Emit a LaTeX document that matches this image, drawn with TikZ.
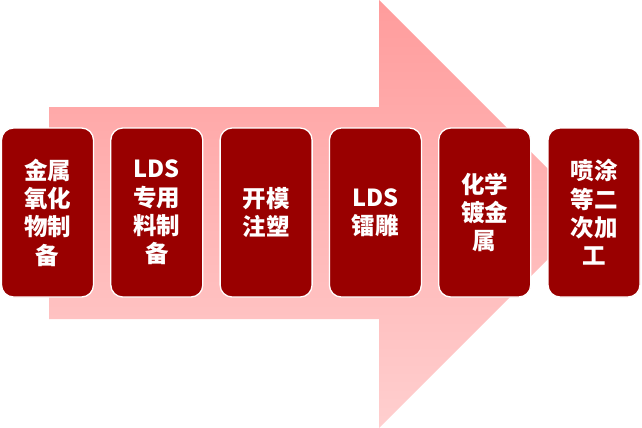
\documentclass[tikz,border=0pt]{standalone}
\usepackage{fontspec}
\newfontfamily\cjk{Noto Sans CJK SC}
\definecolor{boxred}{HTML}{990000}
\definecolor{arrtop}{HTML}{FF9C9C}
\definecolor{arrbot}{HTML}{FFCFCF}
\tikzset{
  stepbox/.style={draw=white, line width=1.3pt, fill=boxred, rounded corners=12pt,
    minimum width=92pt, minimum height=169pt, inner sep=0pt,
    text=white, align=center, font=\cjk\bfseries\fontsize{23.5}{28.3}\selectfont},
}
\begin{document}
\begin{tikzpicture}[x=1pt,y=-1pt]
\useasboundingbox (0,0) rectangle (642,428);
\shade[top color=arrtop, bottom color=arrbot]
  (49,107) -- (379,107) -- (379,0) -- (593,214) -- (379,428) -- (379,319) -- (49,319) -- cycle;
\node[stepbox] (b1) at (47.5,212.5) {金属\\氧化\\物制\\备};
\node[stepbox] (b2) at (156.8,212.5) {LDS\\专用\\料制\\备};
\node[stepbox] (b3) at (266.1,212.5) {开模\\注塑};
\node[stepbox] (b4) at (375.4,212.5) {LDS\\镭雕};
\node[stepbox] (b5) at (484.7,212.5) {化学\\镀金\\属};
\node[stepbox] (b6) at (594,212.5) {喷涂\\等二\\次加\\工};
\end{tikzpicture}
\end{document}
